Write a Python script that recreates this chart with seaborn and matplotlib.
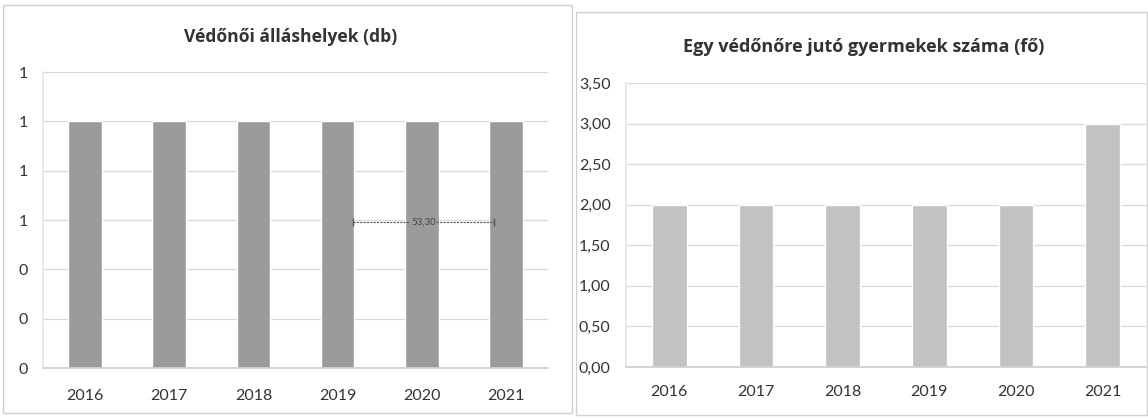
import pandas as pd
import seaborn as sns
import matplotlib.pyplot as plt
from matplotlib.patches import Rectangle
from matplotlib.ticker import FixedLocator, FuncFormatter

years = ["2016", "2017", "2018", "2019", "2020", "2021"]
allashelyek = [1, 1, 1, 1, 1, 1]
gyermek_per_vedono = [2, 2, 2, 2, 2, 3]

left_title = "Védőnői álláshelyek (db)"
right_title = "Egy védőnőre jutó gyermekek száma (fő)"
left_ticks = [0, 0.2, 0.4, 0.6, 0.8, 1.0, 1.2]
right_ticks = [0, 0.5, 1.0, 1.5, 2.0, 2.5, 3.0, 3.5]
stray_label = "53,30"


def style_axis(ax, xpad):
    ax.grid(axis="y", color="#d9d9d9", linewidth=0.9)
    ax.set_axisbelow(True)
    for side in ["top", "right"]:
        ax.spines[side].set_visible(False)
    ax.spines["left"].set_color("#e6e6e6")
    ax.spines["bottom"].set_color("#cfcfcf")
    ax.set_xlabel("")
    ax.set_ylabel("")
    ax.tick_params(axis="y", length=0, pad=11, labelsize=11.5, labelcolor="#333333")
    ax.tick_params(axis="x", length=0, pad=xpad, labelsize=11.5, labelcolor="#333333")
    # Excel style category boundary ticks
    ax.xaxis.set_minor_locator(FixedLocator([i + 0.5 for i in range(-1, len(years))]))
    ax.tick_params(axis="x", which="minor", length=4, color="#cfcfcf")
    ax.set_xlim(-0.5, len(years) - 0.5)


def main():
    sns.set_theme(style="white")
    plt.rcParams["font.family"] = ["Lato", "DejaVu Sans"]

    fig = plt.figure(figsize=(11.48, 4.2), dpi=100)

    # panel frames
    fig.patches.append(Rectangle((3 / 1148, 7 / 420), 569 / 1148, 408 / 420,
                                 transform=fig.transFigure, fill=False,
                                 edgecolor="#d0d0d0", linewidth=1))
    fig.patches.append(Rectangle((576 / 1148, 5 / 420), 571 / 1148, 403 / 420,
                                 transform=fig.transFigure, fill=False,
                                 edgecolor="#d0d0d0", linewidth=1))

    df_left = pd.DataFrame({"ev": years, "db": allashelyek})
    df_right = pd.DataFrame({"ev": years, "fo": gyermek_per_vedono})

    ax1 = fig.add_axes([43 / 1148, 52 / 420, 505 / 1148, 296 / 420])
    sns.barplot(data=df_left, x="ev", y="db", order=years, color="#9b9b9b",
                saturation=1, width=0.4, ax=ax1)
    style_axis(ax1, 15)
    ax1.set_ylim(0, 1.2)
    ax1.set_yticks(left_ticks)
    ax1.yaxis.set_major_formatter(FuncFormatter(lambda v, p: f"{round(v + 1e-9):d}"))
    fig.text(291 / 1148, 1 - 37 / 420, left_title, ha="center", va="center",
             fontsize=12.6, fontweight="bold", color="#333333", family="Open Sans")

    # stray label line left over in the source chart
    ax1.plot([3.18, 4.86], [0.59, 0.59], color="#555555", linewidth=0.8,
             linestyle=(0, (2, 1)), marker="|", markersize=6)
    ax1.text(4.02, 0.59, stray_label, ha="center", va="center", fontsize=7,
             color="#444444",
             bbox=dict(boxstyle="square,pad=0.1", facecolor="#9b9b9b", edgecolor="none"))

    ax2 = fig.add_axes([626 / 1148, 53 / 420, 520 / 1148, 284 / 420])
    sns.barplot(data=df_right, x="ev", y="fo", order=years, color="#c2c2c2",
                saturation=1, width=0.4, ax=ax2)
    style_axis(ax2, 13)
    ax2.set_ylim(0, 3.5)
    ax2.set_yticks(right_ticks)
    ax2.yaxis.set_major_formatter(FuncFormatter(lambda v, p: f"{v:.2f}".replace(".", ",")))
    fig.text(864 / 1148, 1 - 47 / 420, right_title, ha="center", va="center",
             fontsize=13, fontweight="bold", color="#333333", family="Open Sans")

    fig.savefig("out.png", dpi=100, facecolor="white")


if __name__ == "__main__":
    main()
